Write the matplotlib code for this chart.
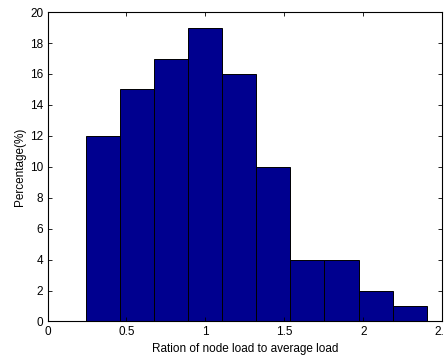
import numpy as np
import matplotlib
matplotlib.use("Agg")
import matplotlib.pyplot as plt

# histogram bins (left edges) and percentages
bin_left = [0.242, 0.458, 0.674, 0.890, 1.106, 1.322, 1.538, 1.754, 1.970, 2.186]
bin_width = 0.216
percent = [12, 15, 17, 19, 16, 10, 4, 4, 2, 1]

xticks = [0, 0.5, 1, 1.5, 2, 2.5]
yticks = [0, 2, 4, 6, 8, 10, 12, 14, 16, 18, 20]

plt.rcParams["font.family"] = ["Liberation Sans", "DejaVu Sans"]
plt.rcParams["font.size"] = 8

fig = plt.figure(figsize=(4.44, 3.56), dpi=100)
ax = fig.add_axes([0.107, 0.097, 0.889, 0.869])

ax.bar(bin_left, percent, width=bin_width, align="edge",
       color="#00008F", edgecolor="black", linewidth=0.7)

ax.set_xlim(0, 2.5)
ax.set_ylim(0, 20)
ax.set_xticks(xticks)
ax.set_xticklabels(["0", "0.5", "1", "1.5", "2", "2.5"])
ax.set_yticks(yticks)
ax.tick_params(direction="in", top=True, right=True, length=3, width=0.6,
               labelsize=8.5, pad=3)
for s in ax.spines.values():
    s.set_linewidth(0.8)

ax.set_xlabel("Ration of node load to average load", fontsize=8.5, labelpad=4)
ax.set_ylabel("Percentage(%)", fontsize=8.5, labelpad=3)

fig.savefig("out.png", dpi=100)
